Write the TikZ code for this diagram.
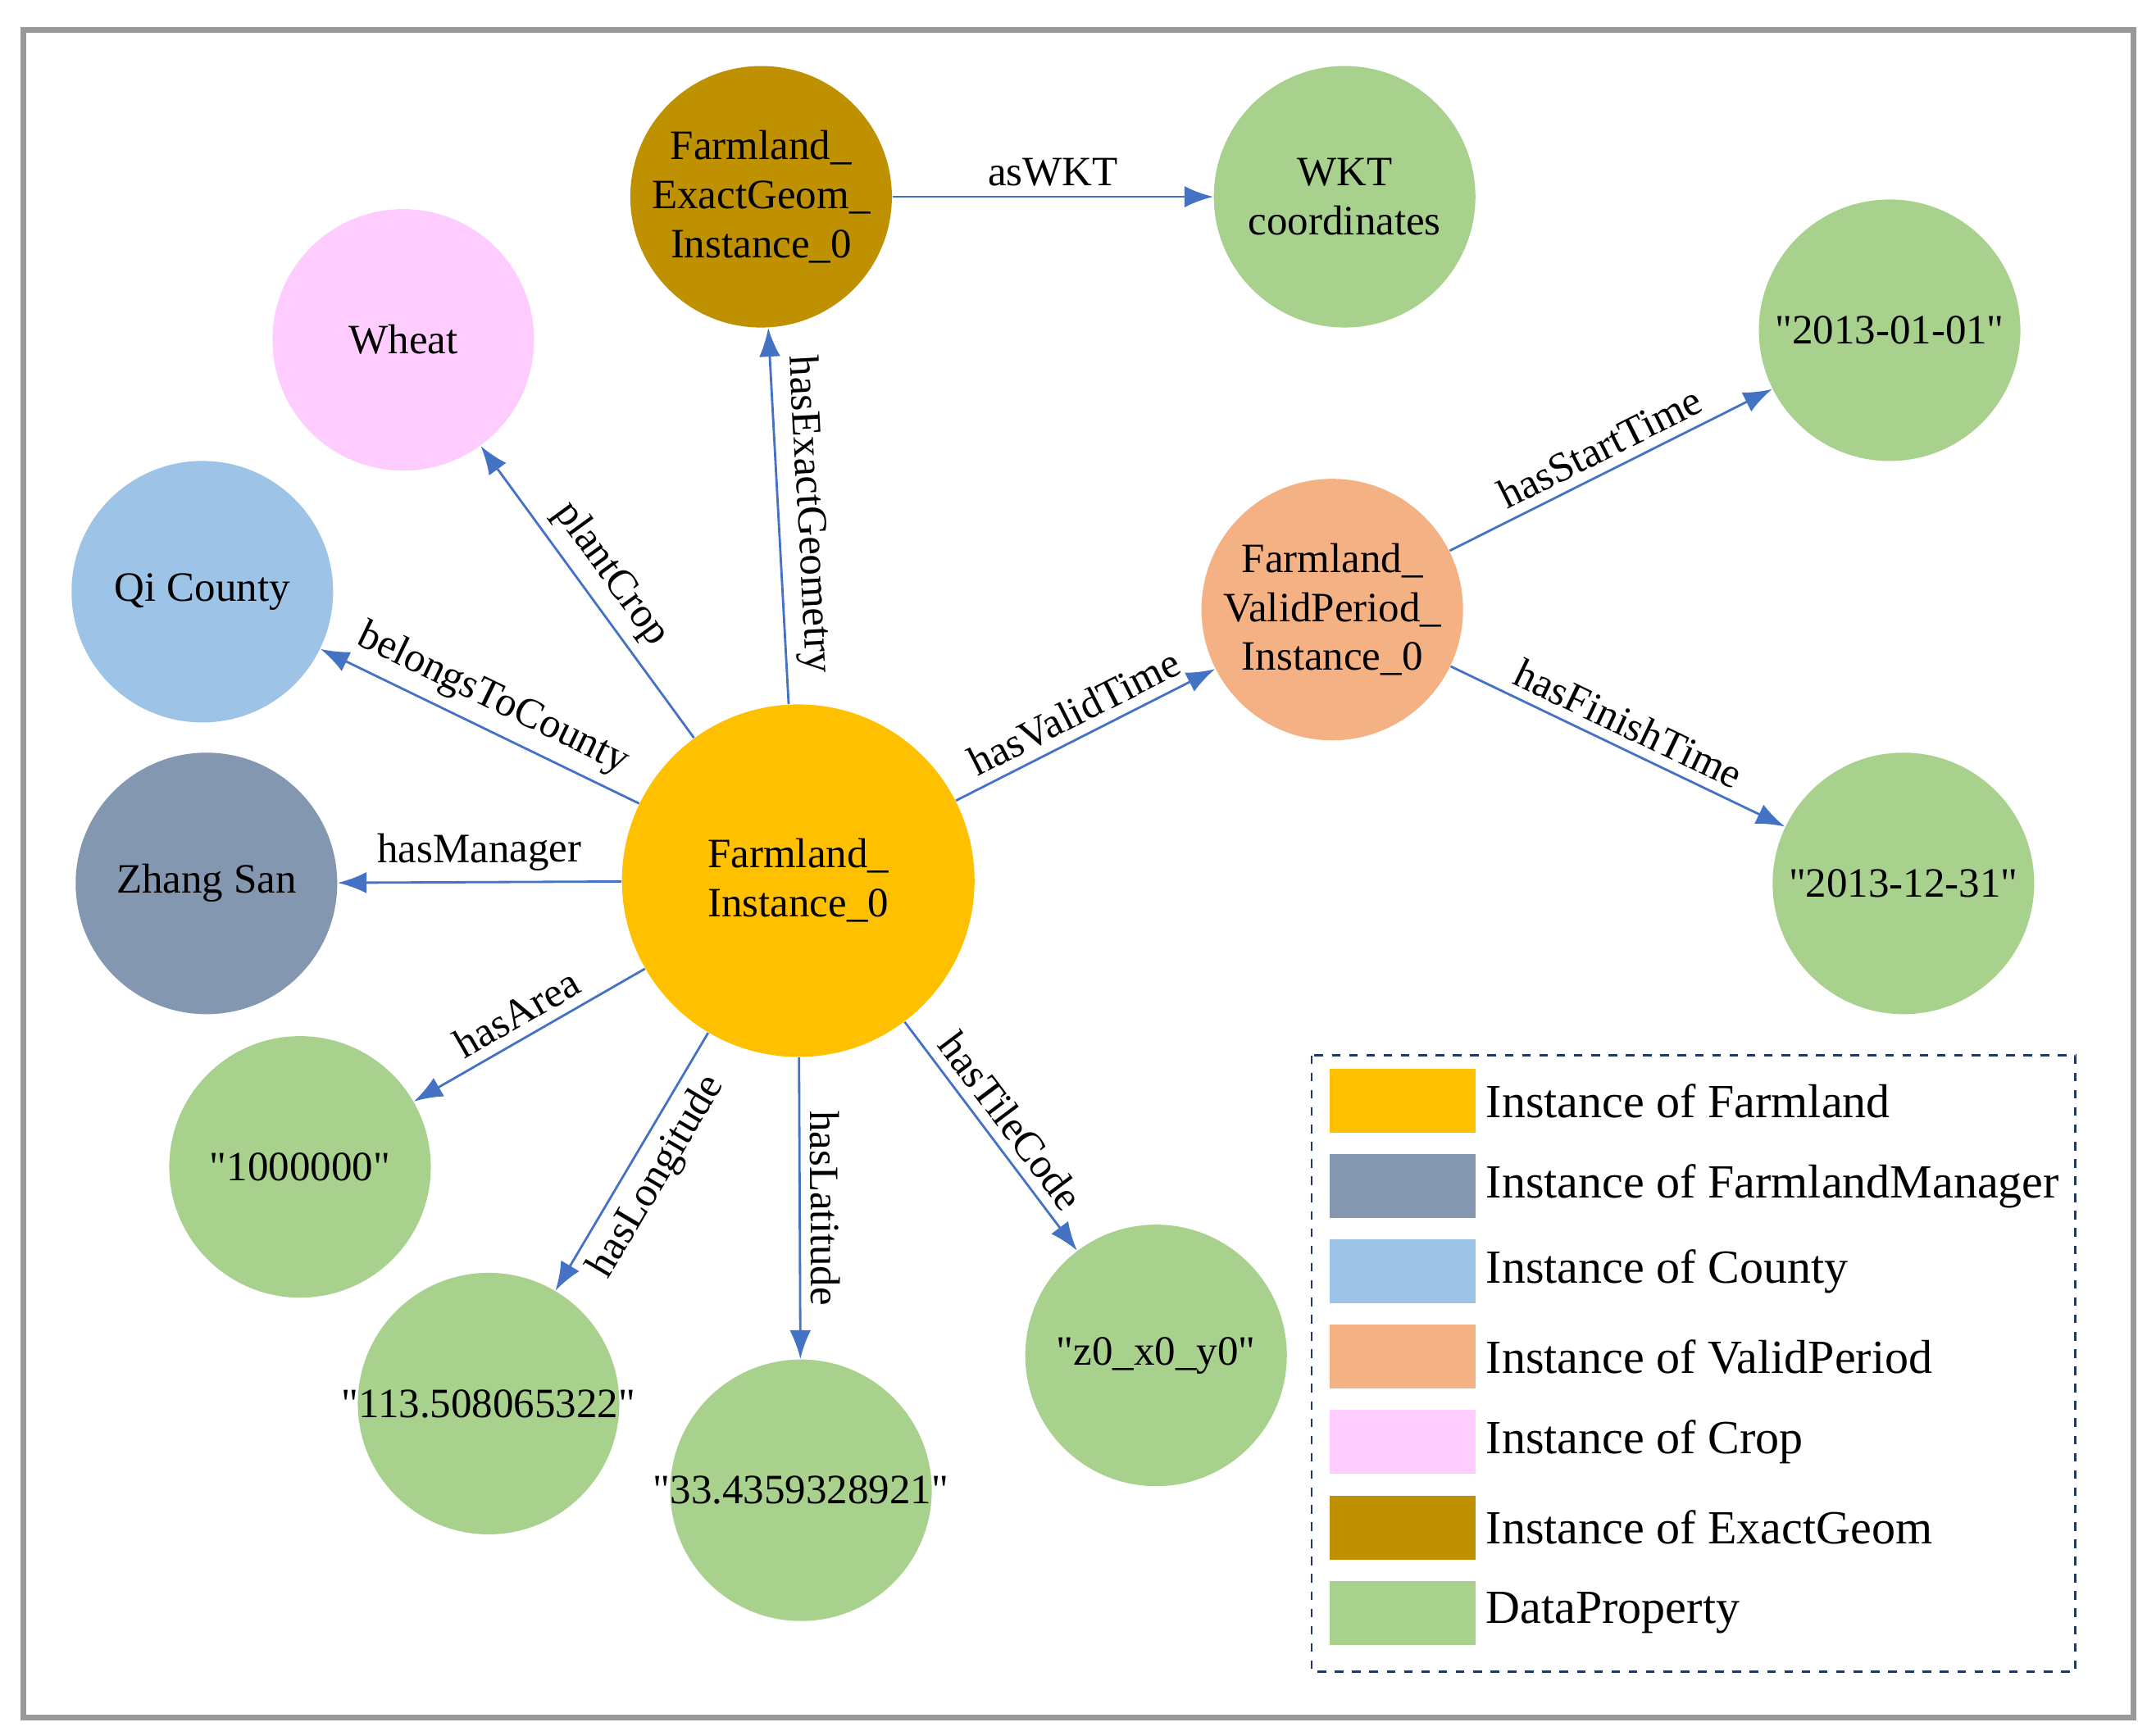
\documentclass[tikz,border=0pt]{standalone}
\usepackage{fontspec}
\setmainfont{Liberation Serif}[Ligatures=TeXOff]
\usetikzlibrary{arrows.meta}
\definecolor{farm}{HTML}{FFC000}
\definecolor{geom}{HTML}{BF9000}
\definecolor{datap}{HTML}{A9D18E}
\definecolor{crop}{HTML}{FFCCFF}
\definecolor{county}{HTML}{9DC3E6}
\definecolor{manager}{HTML}{8497B0}
\definecolor{period}{HTML}{F4B183}
\definecolor{edge}{HTML}{4472C4}
\newcommand{\qt}[1]{\makebox[0pt]{"#1"}}
\tikzset{
  inst/.style={circle,minimum size=3.19cm,inner sep=0pt,align=center,font=\fontsize{14.5}{17}\selectfont},
  rel/.style={edge,thick,-{Latex[length=3.5mm,width=2.6mm]}},
  lab/.style={sloped,above,font=\fontsize{14.5}{17}\selectfont,text=black},
  swatch/.style={minimum width=1.78cm,minimum height=0.78cm,inner sep=0pt},
  legtext/.style={right,font=\fontsize{16.5}{19}\selectfont}
}
\begin{document}
\begin{tikzpicture}[x=0.01679cm,y=-0.01679cm]
\useasboundingbox (0,0) rectangle (1560,1261.5);

% frame
\draw[gray!80,line width=2pt] (17,22) rectangle (1550,1248);

% central node
\node[inst,fill=farm,minimum size=4.3cm] (farm) at (580,640) {Farmland\_\\Instance\_0};

% object nodes
\node[inst,fill=geom] (geom) at (553,143) {Farmland\_\\ExactGeom\_\\Instance\_0};
\node[inst,fill=datap] (wkt) at (977,143) {WKT\\coordinates};
\node[inst,fill=crop] (wheat) at (293,247) {Wheat};
\node[inst,fill=county] (county) at (147,430) {Qi County};
\node[inst,fill=manager] (manager) at (150,642) {Zhang San};
\node[inst,fill=period] (period) at (968,443) {Farmland\_\\ValidPeriod\_\\Instance\_0};

% data property nodes
\node[inst,fill=datap] (start) at (1373,240) {\qt{2013-01-01}};
\node[inst,fill=datap] (finish) at (1383,642) {\qt{2013-12-31}};
\node[inst,fill=datap] (area) at (218,848) {\qt{1000000}};
\node[inst,fill=datap] (lon) at (355,1020) {\qt{113.508065322}};
\node[inst,fill=datap] (lat) at (582,1083) {\qt{33.4359328921}};
\node[inst,fill=datap] (tile) at (840,985) {\qt{z0\_x0\_y0}};

% relations
\draw[rel] (farm) -- node[lab] {hasExactGeometry} (geom);
\draw[rel] (geom) -- node[lab] {asWKT} (wkt);
\draw[rel] (farm) -- node[lab] {plantCrop} (wheat);
\draw[rel] (farm) -- node[lab] {belongsToCounty} (county);
\draw[rel] (farm) -- node[lab] {hasManager} (manager);
\draw[rel] (farm) -- node[lab] {hasValidTime} (period);
\draw[rel] (period) -- node[lab] {hasStartTime} (start);
\draw[rel] (period) -- node[lab] {hasFinishTime} (finish);
\draw[rel] (farm) -- node[lab] {hasArea} (area);
\draw[rel] (farm) -- node[lab,below] {hasLongitude} (lon);
\draw[rel] (farm) -- node[lab] {hasLatitude} (lat);
\draw[rel] (farm) -- node[lab] {hasTileCode} (tile);

% legend
\draw[dashed,thick,color={rgb,255:red,31;green,56;blue,100}] (953,767) rectangle (1508,1215);
\foreach \c/\t [count=\i from 0] in {farm/Instance of Farmland,manager/Instance of FarmlandManager,county/Instance of County,period/Instance of ValidPeriod,crop/Instance of Crop,geom/Instance of ExactGeom,datap/DataProperty}{
  \node[swatch,fill=\c] (sw\i) at (1019,800+62*\i) {};
  \node[legtext] (lt\i) at (sw\i.east) {\t};
}
\end{tikzpicture}
\end{document}
